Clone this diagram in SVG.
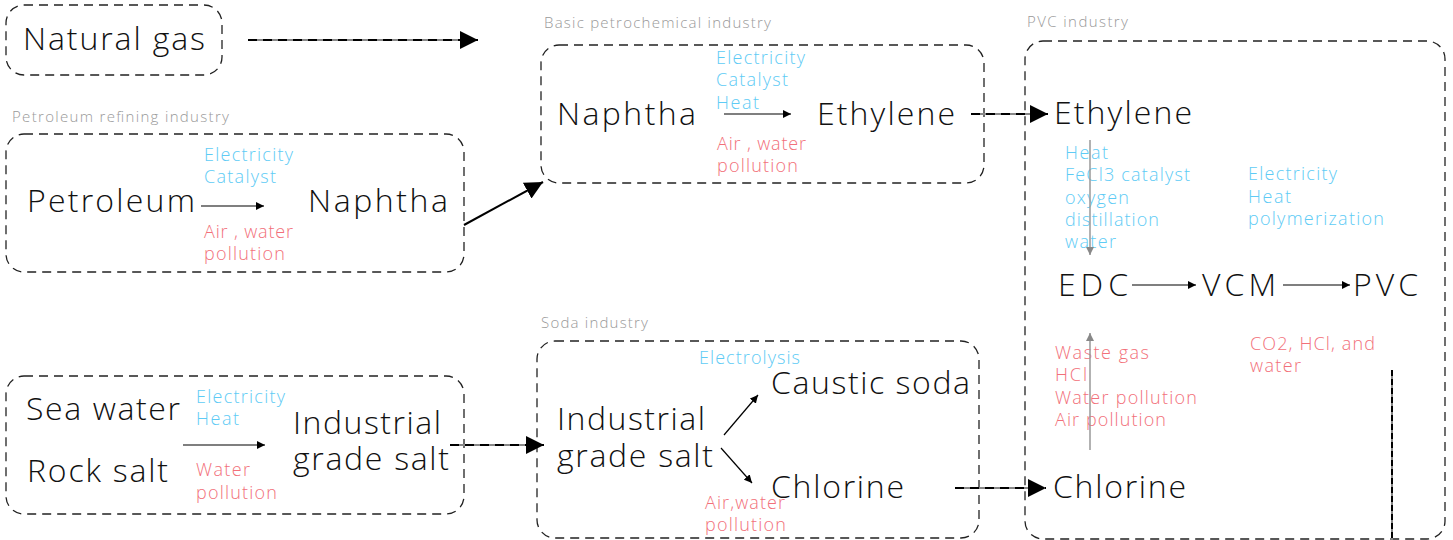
<svg xmlns="http://www.w3.org/2000/svg" width="1453" height="540" viewBox="0 0 1453 540">
<style>
text{font-family:"Open Sans","Noto Sans",sans-serif;font-weight:300}
.m{font-size:32px;fill:#111}
.s{font-size:18px}
.b{fill:#5ecbf5}
.r{fill:#f2707a}
.g{font-size:15px;fill:#999}
.box{fill:none;stroke:#222;stroke-width:1.3;stroke-dasharray:9 6}
.cb{stroke:#888;stroke-width:2;fill:none}
.cd{stroke:#000;stroke-width:2;fill:none;stroke-dasharray:9 6}
.th{stroke:#000;stroke-width:1.2;fill:none}
.gy{stroke:#999;stroke-width:1.5;fill:none}
</style>
<defs>
<marker id="big" viewBox="0 0 10 10" refX="10" refY="5" markerWidth="18" markerHeight="18" markerUnits="userSpaceOnUse" orient="auto"><path d="M0,0L10,5L0,10Z" fill="#000"/></marker>
<marker id="sm" viewBox="0 0 10 10" refX="10" refY="5" markerWidth="8" markerHeight="8" markerUnits="userSpaceOnUse" orient="auto"><path d="M0,0L10,5L0,10Z" fill="#000"/></marker>
<marker id="gm" viewBox="0 0 10 10" refX="10" refY="5" markerWidth="8" markerHeight="8" markerUnits="userSpaceOnUse" orient="auto"><path d="M0,0L10,5L0,10Z" fill="#888"/></marker>
</defs>

<g id="natural-gas">
<rect class="box" x="6" y="5" width="216" height="70" rx="18"/>
<text class="m" x="23" y="50" textLength="182">Natural gas</text>
</g>

<g id="petroleum-refining">
<text class="g" x="12" y="122" textLength="217">Petroleum refining industry</text>
<rect class="box" x="6" y="134" width="458" height="138" rx="18"/>
<text class="m" x="27" y="212" textLength="168">Petroleum</text>
<text class="m" x="308" y="212" textLength="140">Naphtha</text>
<text class="s b" x="204" y="161" textLength="89">Electricity</text>
<text class="s b" x="204" y="183" textLength="72">Catalyst</text>
<text class="s r" x="204" y="238" textLength="89">Air , water</text>
<text class="s r" x="204" y="260" textLength="81">pollution</text>
<line class="th" x1="201" y1="206" x2="264" y2="206" marker-end="url(#sm)"/>
</g>

<g id="basic-petrochemical">
<text class="g" x="544" y="28" textLength="227">Basic petrochemical industry</text>
<rect class="box" x="541" y="45" width="443" height="138" rx="18"/>
<text class="m" x="557" y="125" textLength="139">Naphtha</text>
<text class="m" x="817" y="125" textLength="138">Ethylene</text>
<text class="s b" x="716" y="64" textLength="89">Electricity</text>
<text class="s b" x="716" y="86" textLength="72">Catalyst</text>
<text class="s b" x="716" y="109" textLength="43">Heat</text>
<text class="s r" x="717" y="150" textLength="89">Air , water</text>
<text class="s r" x="717" y="172" textLength="81">pollution</text>
<line class="th" x1="724" y1="114" x2="791" y2="114" marker-end="url(#sm)"/>
</g>

<g id="salt-sources">
<rect class="box" x="6" y="376" width="458" height="138" rx="18"/>
<text class="m" x="26" y="420" textLength="154">Sea water</text>
<text class="m" x="27" y="482" textLength="141">Rock salt</text>
<text class="s b" x="196" y="403" textLength="89">Electricity</text>
<text class="s b" x="196" y="425" textLength="43">Heat</text>
<text class="s r" x="196" y="476" textLength="54">Water</text>
<text class="s r" x="196" y="499" textLength="81">pollution</text>
<text class="m" x="293" y="434" textLength="148">Industrial</text>
<text class="m" x="293" y="470" textLength="156">grade salt</text>
<line class="th" x1="183" y1="445" x2="265" y2="445" marker-end="url(#sm)"/>
</g>

<g id="soda-industry">
<text class="g" x="541" y="328" textLength="107">Soda industry</text>
<rect class="box" x="537" y="341" width="442" height="197" rx="18"/>
<text class="m" x="557" y="430" textLength="148">Industrial</text>
<text class="m" x="557" y="467" textLength="156">grade salt</text>
<text class="s b" x="699" y="364" textLength="101">Electrolysis</text>
<text class="m" x="771" y="394" textLength="199">Caustic soda</text>
<text class="m" x="771" y="498" textLength="133">Chlorine</text>
<text class="s r" x="705" y="509" textLength="80">Air,water</text>
<text class="s r" x="705" y="531" textLength="81">pollution</text>
<line class="th" x1="724" y1="435" x2="758" y2="395" marker-end="url(#sm)"/>
<line class="th" x1="721" y1="448" x2="752" y2="483" marker-end="url(#sm)"/>
</g>

<g id="pvc-industry">
<text class="g" x="1027" y="27" textLength="101">PVC industry</text>
<rect class="box" x="1025" y="41" width="420" height="498" rx="18"/>
<text class="m" x="1054" y="124" textLength="138">Ethylene</text>
<text class="s b" x="1065" y="159" textLength="43">Heat</text>
<text class="s b" x="1065" y="181" textLength="125">FeCl3 catalyst</text>
<text class="s b" x="1065" y="204" textLength="64">oxygen</text>
<text class="s b" x="1065" y="226" textLength="94">distillation</text>
<text class="s b" x="1065" y="248" textLength="51">water</text>
<text class="s b" x="1248" y="180" textLength="89">Electricity</text>
<text class="s b" x="1248" y="203" textLength="43">Heat</text>
<text class="s b" x="1248" y="225" textLength="136">polymerization</text>
<text class="m" x="1058" y="296" textLength="70">EDC</text>
<text class="m" x="1202" y="296" textLength="74">VCM</text>
<text class="m" x="1353" y="296" textLength="65">PVC</text>
<text class="s r" x="1055" y="359" textLength="94">Waste gas</text>
<text class="s r" x="1055" y="381" textLength="32">HCl</text>
<text class="s r" x="1055" y="404" textLength="142">Water pollution</text>
<text class="s r" x="1055" y="426" textLength="111">Air pollution</text>
<text class="s r" x="1250" y="350" textLength="125">CO2, HCl, and</text>
<text class="s r" x="1250" y="372" textLength="51">water</text>
<text class="m" x="1053" y="498" textLength="133">Chlorine</text>
<line class="th" x1="1132" y1="285" x2="1196" y2="285" marker-end="url(#sm)"/>
<line class="th" x1="1283" y1="285" x2="1350" y2="285" marker-end="url(#sm)"/>
<line class="gy" x1="1090" y1="140" x2="1090" y2="255" marker-end="url(#gm)"/>
<line class="gy" x1="1090" y1="450" x2="1090" y2="333" marker-end="url(#gm)"/>
</g>

<g id="connectors">
<line class="cb" x1="248" y1="40" x2="462" y2="40"/>
<line class="cd" x1="248" y1="40" x2="478" y2="40" marker-end="url(#big)"/>
<line class="cd" style="stroke-dasharray:none" x1="464" y1="225" x2="543" y2="182" marker-end="url(#big)"/>
<line class="cb" x1="971" y1="114" x2="1032" y2="114"/>
<line class="cd" x1="971" y1="114" x2="1048" y2="114" marker-end="url(#big)"/>
<line class="cb" x1="450" y1="445" x2="528" y2="445"/>
<line class="cd" x1="450" y1="445" x2="544" y2="445" marker-end="url(#big)"/>
<line class="cb" x1="955" y1="488" x2="1030" y2="488"/>
<line class="cd" x1="955" y1="488" x2="1046" y2="488" marker-end="url(#big)"/>
<line class="cb" x1="1392" y1="370" x2="1392" y2="540"/>
<line class="cd" style="stroke-dasharray:6 3" x1="1392" y1="370" x2="1392" y2="540"/>
</g>
</svg>
